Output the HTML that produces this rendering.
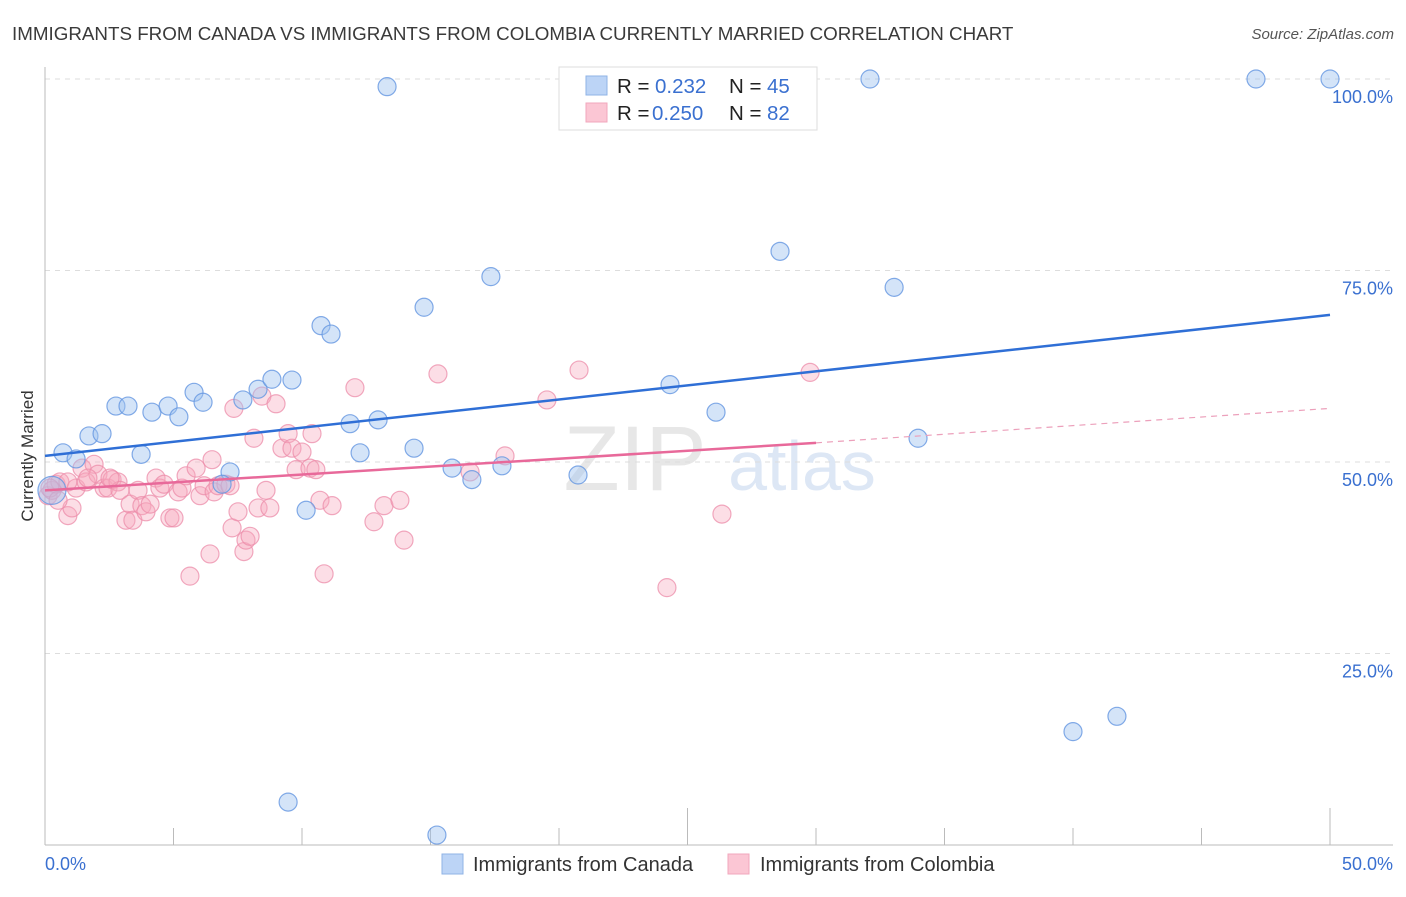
<!DOCTYPE html>
<html><head><meta charset="utf-8">
<style>
body{margin:0;background:#fff;font-family:"Liberation Sans",sans-serif;}
svg text{font-family:"Liberation Sans",sans-serif;}
</style></head>
<body>
<svg id="chart" width="1406" height="892" viewBox="0 0 1406 892" xmlns="http://www.w3.org/2000/svg">
<text x="12" y="40" font-size="18.8" fill="#3a3a3a">IMMIGRANTS FROM CANADA VS IMMIGRANTS FROM COLOMBIA CURRENTLY MARRIED CORRELATION CHART</text>
<text x="1394" y="39" font-size="15" fill="#555" text-anchor="end" font-style="italic">Source: ZipAtlas.com</text>
<text transform="translate(33,456) rotate(-90)" font-size="17" fill="#333" text-anchor="middle">Currently Married</text>
<g>
<text x="635" y="490" font-size="92" fill="#d8d8d8" text-anchor="middle" font-family="Liberation Serif" opacity="0.6">ZIP</text>
<text x="802" y="490" font-size="70" fill="#c8d8f0" text-anchor="middle" opacity="0.6">atlas</text>
</g>
<g id="grid"></g>
<g id="axes"></g>
<g id="pink"></g>
<g id="blue"></g>
<g id="trend"></g>
<g>
<rect x="559" y="67" width="258" height="63" fill="#fff" stroke="#ddd"/>
<rect x="586" y="76" width="21" height="19" fill="#bcd4f6" stroke="#8fb3e6"/>
<rect x="586" y="103" width="21" height="19" fill="#fbc6d4" stroke="#f2a7bc"/>
<text x="617" y="93" font-size="20.5" fill="#222">R = </text><text x="655" y="93" font-size="20.5" fill="#3a70d0">0.232</text>
<text x="729" y="93" font-size="20.5" fill="#222">N = </text><text x="767" y="93" font-size="20.5" fill="#3a70d0">45</text>
<text x="617" y="120" font-size="20.5" fill="#222">R = </text><text x="652" y="120" font-size="20.5" fill="#3a70d0">0.250</text>
<text x="729" y="120" font-size="20.5" fill="#222">N = </text><text x="767" y="120" font-size="20.5" fill="#3a70d0">82</text>
</g>
<g>
<rect x="442" y="854" width="21" height="20" fill="#bcd4f6" stroke="#8fb3e6"/>
<text x="473" y="871" font-size="20" fill="#333">Immigrants from Canada</text>
<rect x="728" y="854" width="21" height="20" fill="#fbc6d4" stroke="#f2a7bc"/>
<text x="760" y="871" font-size="20" fill="#333">Immigrants from Colombia</text>
</g>
</svg>
<script>
const yTicks=[25,50,75,100];
const yTickLabels=["25.0%","50.0%","75.0%","100.0%"];
const xTickLabels=["0.0%","50.0%"];
const canadaX=[0.27,0.70,1.21,1.71,2.22,2.76,3.23,3.74,4.16,4.79,5.21,5.80,6.15,7.20,6.89,7.70,8.29,8.83,9.61,10.16,10.74,11.13,11.87,12.26,12.96,13.31,14.36,14.75,15.84,16.61,17.35,17.78,20.74,9.46,15.25,24.32,26.11,28.60,32.10,33.04,33.97,40.0,41.71,47.12,50];
const canadaY=[46.3,51.2,50.4,53.4,53.7,57.3,57.3,51.0,56.5,57.3,55.9,59.1,57.8,48.7,47.1,58.1,59.5,60.8,60.7,43.7,67.8,66.7,55.0,51.2,55.5,99.0,51.8,70.2,49.2,47.7,74.2,49.5,48.3,5.6,1.3,60.1,56.5,77.5,100,72.8,53.1,14.8,16.8,100,100];
const colombiaX=[0.12,0.27,0.43,0.58,0.89,1.05,1.21,1.44,1.60,1.91,2.06,2.30,2.45,2.61,2.84,2.92,3.15,3.31,3.42,3.62,3.77,3.93,4.09,4.32,4.47,4.63,4.86,5.02,5.18,5.33,5.49,5.64,5.88,6.03,6.19,6.42,6.50,6.58,6.73,7.04,7.28,7.35,7.51,7.74,7.82,7.98,8.13,8.29,8.44,8.60,8.75,8.99,9.22,9.46,9.61,9.77,10.00,10.31,10.39,10.54,10.70,10.86,11.17,12.06,12.80,13.19,13.81,13.97,15.29,16.54,17.90,19.53,20.78,24.20,26.34,29.77,0.89,1.67,2.53,0.19,7.20,0.51];
const colombiaY=[45.6,46.3,47.1,47.4,43.0,44.0,46.6,49.2,47.4,49.7,48.4,46.6,46.6,47.7,47.4,46.3,42.4,44.5,42.4,46.3,44.3,43.5,44.5,47.9,46.6,47.1,42.7,42.7,46.1,46.6,48.2,35.1,49.2,45.6,46.9,38.0,50.3,46.1,46.9,47.1,41.4,57.0,43.5,38.3,39.8,40.3,53.1,44.0,58.6,46.3,44.0,57.6,51.8,53.7,51.8,49.0,51.3,49.2,53.7,49.0,45.0,35.4,44.3,59.7,42.2,44.3,45.0,39.8,61.5,48.7,50.8,58.1,62.0,33.6,43.2,61.7,47.4,47.9,47.9,46.6,46.9,45.0];
const canadaTrend=[50.8,69.2];
const colombiaTrend=[46.3,52.5,57.0];
const X=v=>45+v*25.7, Y=v=>845-v*7.66;
const NS="http://www.w3.org/2000/svg";
function mk(parent,tag,attrs){const e=document.createElementNS(NS,tag);for(const k in attrs)e.setAttribute(k,attrs[k]);document.getElementById(parent).appendChild(e);return e;}
yTicks.forEach((t,i)=>{
 const g=mk('grid','line',{x1:45,x2:1393,y1:Y(t),y2:Y(t),stroke:'#ddd','stroke-dasharray':'5,5'});
 
 
 const l=mk('axes','text',{x:1393,y:Y(t)+24,'font-size':18,fill:'#3a70d0','text-anchor':'end'});l.textContent=yTickLabels[i];
 
 
});
let a=mk('axes','line',{x1:45,x2:45,y1:67,y2:845,stroke:'#bbb'});


a=mk('axes','line',{x1:45,x2:1393,y1:845,y2:845,stroke:'#bbb'});


for(let i=0;i<=10;i++){const x=X(i*5);const t=mk('axes','line',{x1:x,x2:x,y1:(i==5||i==10)?808:828,y2:845,stroke:'#bbb'});
 
 }
[[0,'start'],[50,'end']].forEach((p,i)=>{const t=mk('axes','text',{x:i?1393:45,y:870,'font-size':18,fill:'#3a70d0','text-anchor':p[1]});t.textContent=xTickLabels[i];
 
 });
colombiaX.forEach((v,i)=>{const c=mk('pink','circle',{cx:X(v),cy:Y(colombiaY[i]),r:9,fill:'rgba(246,168,190,0.38)',stroke:'rgba(236,140,170,0.75)','stroke-width':1.2});
 
 });
canadaX.forEach((v,i)=>{const c=mk('blue','circle',{cx:X(v),cy:Y(canadaY[i]),r:i==0?14:9,fill:'rgba(160,196,240,0.45)',stroke:'rgba(100,150,225,0.8)','stroke-width':1.2});
 
 });
let t=mk('trend','line',{x1:X(0),y1:Y(canadaTrend[0]),x2:X(50),y2:Y(canadaTrend[1]),stroke:'#2f6fd6','stroke-width':2.5});


t=mk('trend','line',{x1:X(0),y1:Y(colombiaTrend[0]),x2:X(30),y2:Y(colombiaTrend[1]),stroke:'#e8699a','stroke-width':2.5});


t=mk('trend','line',{x1:X(30),y1:Y(colombiaTrend[1]),x2:X(50),y2:Y(colombiaTrend[2]),stroke:'#eca0bb','stroke-width':1.2,'stroke-dasharray':'6,5'});


</script>
</body></html>
